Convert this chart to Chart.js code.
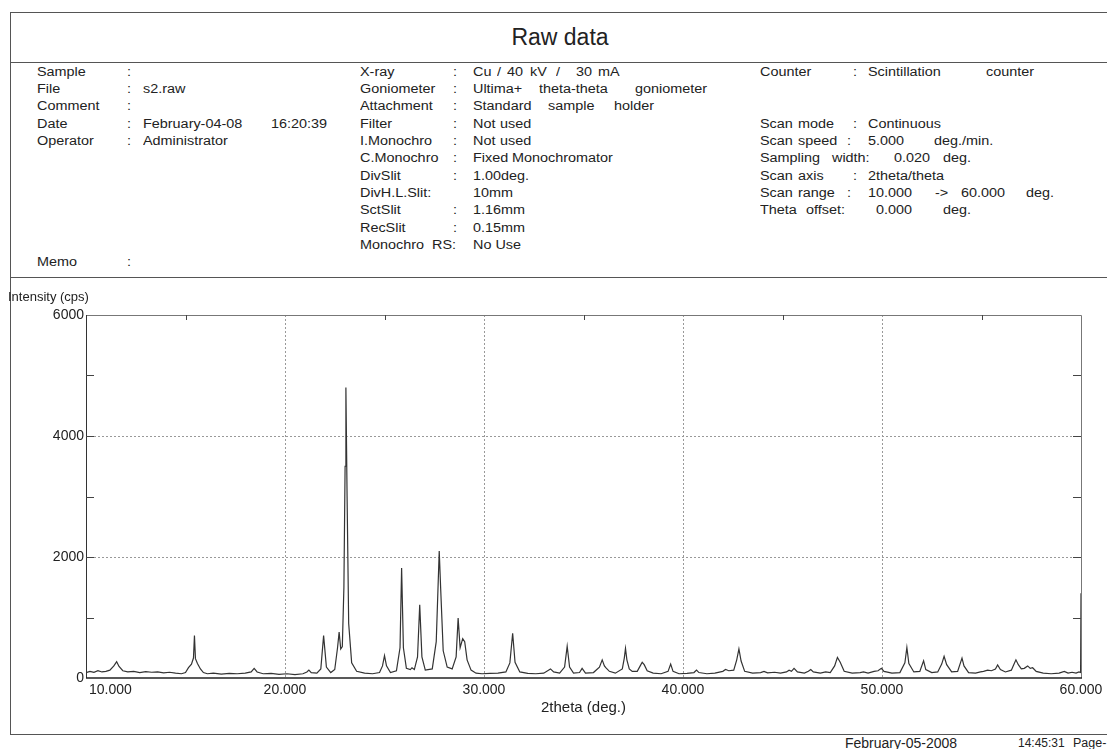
<!DOCTYPE html>
<html>
<head>
<meta charset="utf-8">
<title>Raw data</title>
<script src="https://cdn.jsdelivr.net/npm/chart.js@4.4.1/dist/chart.umd.min.js"></script>
<style>
  html, body { margin: 0; padding: 0; background: #fff; }
  body { width: 1107px; height: 749px; position: relative; overflow: hidden;
         font-family: Arial, "Liberation Sans", sans-serif; color: #222; }
  .box { position: absolute; left: 10px; top: 12px; width: 1110px; height: 723px;
         border: 1px solid #555; box-sizing: border-box; }
  .hl { position: absolute; left: 10px; width: 1097px; height: 0; border-top: 1px solid #555; }
  .t { position: absolute; font-size: 12px; line-height: 14px; white-space: nowrap;
       transform: scaleX(1.2); transform-origin: left center; }
  #title { position: absolute; left: 0; width: 1120px; top: 24px; text-align: center;
           font-size: 23px; line-height: 26px; }
  .foot { position: absolute; top: 735px; line-height: 16px; white-space: nowrap; }
  #chartWrap { position: absolute; left: 0; top: 278px; width: 1107px; height: 457px; }
</style>
</head>
<body>
<div class="box"></div>
<div class="hl" style="top:62px"></div>
<div class="hl" style="top:277px"></div>
<div id="title">Raw data</div>

<!-- column 1 -->
<span class="t" style="left:37px;top:65px">Sample</span>
<span class="t" style="left:127px;top:65px">:</span>
<span class="t" style="left:37px;top:82px">File</span>
<span class="t" style="left:127px;top:82px">:</span>
<span class="t" style="left:143px;top:82px">s2.raw</span>
<span class="t" style="left:37px;top:99px">Comment</span>
<span class="t" style="left:127px;top:99px">:</span>
<span class="t" style="left:37px;top:117px">Date</span>
<span class="t" style="left:127px;top:117px">:</span>
<span class="t" style="left:143px;top:117px">February-04-08</span>
<span class="t" style="left:271px;top:117px">16:20:39</span>
<span class="t" style="left:37px;top:134px">Operator</span>
<span class="t" style="left:127px;top:134px">:</span>
<span class="t" style="left:143px;top:134px">Administrator</span>
<span class="t" style="left:37px;top:255px">Memo</span>
<span class="t" style="left:127px;top:255px">:</span>

<!-- column 2 -->
<span class="t" style="left:360px;top:65px">X-ray</span>
<span class="t" style="left:453px;top:65px">:</span>
<span class="t" style="left:473px;top:65px">Cu</span>
<span class="t" style="left:497px;top:65px">/</span>
<span class="t" style="left:507px;top:65px">40</span>
<span class="t" style="left:530px;top:65px">kV</span>
<span class="t" style="left:556px;top:65px">/</span>
<span class="t" style="left:576px;top:65px">30</span>
<span class="t" style="left:598px;top:65px">mA</span>
<span class="t" style="left:360px;top:82px">Goniometer</span>
<span class="t" style="left:453px;top:82px">:</span>
<span class="t" style="left:473px;top:82px">Ultima+</span>
<span class="t" style="left:539px;top:82px">theta-theta</span>
<span class="t" style="left:635px;top:82px">goniometer</span>
<span class="t" style="left:360px;top:99px">Attachment</span>
<span class="t" style="left:453px;top:99px">:</span>
<span class="t" style="left:473px;top:99px">Standard</span>
<span class="t" style="left:548px;top:99px">sample</span>
<span class="t" style="left:614px;top:99px">holder</span>
<span class="t" style="left:360px;top:117px">Filter</span>
<span class="t" style="left:453px;top:117px">:</span>
<span class="t" style="left:473px;top:117px">Not</span>
<span class="t" style="left:500px;top:117px">used</span>
<span class="t" style="left:360px;top:134px">I.Monochro</span>
<span class="t" style="left:453px;top:134px">:</span>
<span class="t" style="left:473px;top:134px">Not</span>
<span class="t" style="left:500px;top:134px">used</span>
<span class="t" style="left:360px;top:151px">C.Monochro</span>
<span class="t" style="left:453px;top:151px">:</span>
<span class="t" style="left:473px;top:151px">Fixed</span>
<span class="t" style="left:512px;top:151px">Monochromator</span>
<span class="t" style="left:360px;top:169px">DivSlit</span>
<span class="t" style="left:453px;top:169px">:</span>
<span class="t" style="left:473px;top:169px">1.00deg.</span>
<span class="t" style="left:360px;top:186px">DivH.L.Slit:</span>
<span class="t" style="left:473px;top:186px">10mm</span>
<span class="t" style="left:360px;top:203px">SctSlit</span>
<span class="t" style="left:453px;top:203px">:</span>
<span class="t" style="left:473px;top:203px">1.16mm</span>
<span class="t" style="left:360px;top:221px">RecSlit</span>
<span class="t" style="left:453px;top:221px">:</span>
<span class="t" style="left:473px;top:221px">0.15mm</span>
<span class="t" style="left:360px;top:238px">Monochro</span>
<span class="t" style="left:432px;top:238px">RS:</span>
<span class="t" style="left:473px;top:238px">No Use</span>

<!-- column 3 -->
<span class="t" style="left:760px;top:65px">Counter</span>
<span class="t" style="left:853px;top:65px">:</span>
<span class="t" style="left:868px;top:65px">Scintillation</span>
<span class="t" style="left:986px;top:65px">counter</span>
<span class="t" style="left:760px;top:117px">Scan</span>
<span class="t" style="left:798px;top:117px">mode</span>
<span class="t" style="left:853px;top:117px">:</span>
<span class="t" style="left:868px;top:117px">Continuous</span>
<span class="t" style="left:760px;top:134px">Scan</span>
<span class="t" style="left:798px;top:134px">speed</span>
<span class="t" style="left:847px;top:134px">:</span>
<span class="t" style="left:868px;top:134px">5.000</span>
<span class="t" style="left:934px;top:134px">deg./min.</span>
<span class="t" style="left:760px;top:151px">Sampling</span>
<span class="t" style="left:832px;top:151px">width:</span>
<span class="t" style="left:894px;top:151px">0.020</span>
<span class="t" style="left:943px;top:151px">deg.</span>
<span class="t" style="left:760px;top:169px">Scan</span>
<span class="t" style="left:798px;top:169px">axis</span>
<span class="t" style="left:853px;top:169px">:</span>
<span class="t" style="left:868px;top:169px">2theta/theta</span>
<span class="t" style="left:760px;top:186px">Scan</span>
<span class="t" style="left:798px;top:186px">range</span>
<span class="t" style="left:847px;top:186px">:</span>
<span class="t" style="left:868px;top:186px">10.000</span>
<span class="t" style="left:935px;top:186px">-&gt;</span>
<span class="t" style="left:961px;top:186px">60.000</span>
<span class="t" style="left:1026px;top:186px">deg.</span>
<span class="t" style="left:760px;top:203px">Theta</span>
<span class="t" style="left:806px;top:203px">offset:</span>
<span class="t" style="left:876px;top:203px">0.000</span>
<span class="t" style="left:943px;top:203px">deg.</span>

<div id="chartWrap"><canvas id="xrdChart" width="1107" height="457"></canvas></div>

<div class="foot" style="left:845px;font-size:14px">February-05-2008</div>
<div class="foot" style="left:1018px;font-size:12px">14:45:31</div>
<div class="foot" style="left:1073px;font-size:12.5px">Page-</div>

<script>
/***** DATA *****/
var twoTheta = [
    10.00, 10.20, 10.40, 10.60, 10.80, 11.00, 11.20, 11.40, 11.54, 11.66, 11.85, 12.10, 12.40, 12.70,
    13.00, 13.30, 13.60, 13.90, 14.20, 14.50, 14.80, 15.00, 15.15, 15.30, 15.40, 15.45, 15.50, 15.60,
    15.75, 15.90, 16.10, 16.40, 16.80, 17.20, 17.60, 18.00, 18.30, 18.45, 18.60, 18.90, 19.30, 19.70,
    20.10, 20.50, 20.90, 21.10, 21.20, 21.32, 21.60, 21.80, 21.94, 22.08, 22.30, 22.50, 22.64, 22.72,
    22.80, 22.88, 22.96, 23.02, 23.06, 23.12, 23.20, 23.35, 23.60, 24.00, 24.40, 24.75, 24.90, 25.00,
    25.10, 25.30, 25.60, 25.78, 25.86, 25.95, 26.10, 26.30, 26.38, 26.50, 26.66, 26.77, 26.88, 27.05,
    27.40, 27.60, 27.70, 27.75, 27.82, 27.95, 28.15, 28.40, 28.60, 28.70, 28.80, 28.93, 29.03, 29.15,
    29.35, 29.60, 29.90, 30.30, 30.70, 31.10, 31.30, 31.44, 31.56, 31.80, 32.20, 32.60, 33.00, 33.34,
    33.50, 33.80, 34.05, 34.18, 34.30, 34.50, 34.80, 34.93, 35.10, 35.50, 35.80, 35.94, 36.05, 36.12,
    36.30, 36.60, 36.95, 37.05, 37.11, 37.18, 37.30, 37.45, 37.70, 37.85, 37.95, 38.05, 38.20, 38.50,
    38.90, 39.25, 39.38, 39.50, 39.80, 40.20, 40.55, 40.68, 40.80, 41.20, 41.60, 42.00, 42.14, 42.30,
    42.55, 42.70, 42.81, 42.92, 43.10, 43.50, 43.90, 44.07, 44.25, 44.60, 44.90, 45.20, 45.33, 45.45,
    45.58, 45.75, 46.10, 46.30, 46.42, 46.55, 46.90, 47.17, 47.40, 47.62, 47.76, 47.90, 48.10, 48.50,
    48.90, 49.07, 49.30, 49.60, 49.80, 49.97, 50.10, 50.50, 50.90, 51.15, 51.25, 51.35, 51.60, 51.90,
    52.09, 52.20, 52.50, 52.80, 53.00, 53.12, 53.25, 53.50, 53.80, 54.02, 54.12, 54.35, 54.70, 54.95,
    55.10, 55.31, 55.50, 55.70, 55.81, 55.95, 56.20, 56.50, 56.62, 56.73, 56.85, 57.00, 57.15, 57.32,
    57.45, 57.57, 57.75, 58.10, 58.50, 58.90, 59.16, 59.35, 59.55, 59.75, 59.90, 59.98, 60.00
];
var intensity = [
    90, 110, 95, 120, 100, 110, 130, 200, 270, 190, 120, 100, 110, 90,
    105, 95, 100, 85, 95, 80, 70, 90, 170, 230, 330, 700, 320, 240,
    150, 90, 70, 80, 65, 75, 70, 80, 100, 160, 100, 70, 75, 60,
    70, 55, 70, 100, 130, 90, 80, 150, 700, 180, 90, 140, 500, 760,
    480, 520, 1500, 3500, 4800, 3000, 900, 250, 110, 80, 70, 90, 200, 370,
    200, 90, 120, 500, 1820, 500, 160, 140, 170, 140, 350, 1210, 350, 130,
    150, 600, 1600, 2100, 1500, 450, 180, 150, 350, 990, 500, 650, 600, 300,
    130, 80, 70, 75, 80, 100, 250, 740, 260, 100, 75, 70, 80, 150,
    100, 80, 180, 525, 180, 80, 90, 160, 80, 90, 180, 300, 200, 170,
    110, 80, 150, 330, 490, 300, 150, 110, 110, 200, 260, 220, 120, 80,
    70, 110, 230, 110, 70, 75, 90, 130, 90, 70, 80, 110, 140, 120,
    130, 300, 480, 280, 110, 80, 90, 110, 85, 95, 80, 100, 130, 110,
    160, 100, 80, 110, 140, 100, 80, 100, 90, 200, 340, 260, 110, 80,
    90, 100, 80, 110, 120, 160, 110, 80, 90, 250, 505, 240, 100, 110,
    285, 140, 90, 100, 230, 360, 220, 100, 110, 330, 200, 90, 80, 100,
    110, 130, 120, 150, 215, 140, 100, 130, 220, 300, 220, 150, 160, 200,
    160, 170, 110, 80, 70, 80, 110, 80, 95, 80, 100, 90, 1400
];
var xTickValues = [10, 20, 30, 40, 50, 60];
var yMinorTicks = [1000, 2000, 3000, 4000, 5000];
var xMinorTicks = [15, 25, 35, 45, 55];

var points = twoTheta.map(function (t, i) { return { x: t, y: intensity[i] }; });

var frameAndLabels = {
    id: 'frameAndLabels',
    afterDraw: function (chart) {
        var ctx = chart.ctx, a = chart.chartArea;
        var xs = chart.scales.x, ys = chart.scales.y;
        ctx.save();
        // plot frame
        ctx.lineWidth = 1;
        ctx.strokeStyle = '#777';
        ctx.beginPath();
        ctx.moveTo(a.left, a.top + 0.5); ctx.lineTo(a.right + 0.5, a.top + 0.5);
        ctx.lineTo(a.right + 0.5, a.bottom);
        ctx.stroke();
        ctx.strokeStyle = '#333';
        ctx.beginPath();
        ctx.moveTo(a.left + 0.5, a.top); ctx.lineTo(a.left + 0.5, a.bottom);
        ctx.stroke();
        ctx.lineWidth = 1.5;
        ctx.strokeStyle = '#222';
        ctx.beginPath();
        ctx.moveTo(a.left, a.bottom); ctx.lineTo(a.right + 1, a.bottom);
        ctx.stroke();

        // inward ticks
        ctx.lineWidth = 1;
        ctx.strokeStyle = '#444';
        yMinorTicks.forEach(function (v) {
            var py = Math.round(ys.getPixelForValue(v)) + 0.5;
            ctx.beginPath();
            ctx.moveTo(a.left, py); ctx.lineTo(a.left + 8, py);
            ctx.moveTo(a.right, py); ctx.lineTo(a.right - 8, py);
            ctx.stroke();
        });
        xMinorTicks.forEach(function (v) {
            var px = Math.round(xs.getPixelForValue(v)) + 0.5;
            ctx.beginPath();
            ctx.moveTo(px, a.top); ctx.lineTo(px, a.top + 5);
            ctx.stroke();
        });

        // x tick labels
        ctx.fillStyle = '#222';
        ctx.font = '14px Arial, "Liberation Sans", sans-serif';
        ctx.textBaseline = 'middle';
        xTickValues.forEach(function (v, i) {
            var px = xs.getPixelForValue(v);
            if (i === 0) {
                ctx.textAlign = 'left';
                ctx.fillText(v.toFixed(3), px + 3, a.bottom + 12);
            } else {
                ctx.textAlign = 'center';
                ctx.fillText(v.toFixed(3), px, a.bottom + 12);
            }
        });

        // axis titles
        ctx.font = '15px Arial, "Liberation Sans", sans-serif';
        ctx.textAlign = 'center';
        ctx.fillText('2theta (deg.)', (a.left + a.right) / 2, a.bottom + 30);
        ctx.font = '13px Arial, "Liberation Sans", sans-serif';
        ctx.textAlign = 'left';
        ctx.fillText('Intensity (cps)', 8, 19);
        ctx.restore();
    }
};

var ctx = document.getElementById('xrdChart').getContext('2d');
var xrdChart = new Chart(ctx, {
    type: 'line',
    data: {
        datasets: [{
            label: 'Intensity',
            data: points,
            borderColor: '#333',
            borderWidth: 1.2,
            pointRadius: 0,
            tension: 0,
            fill: false
        }]
    },
    options: {
        responsive: false,
        animation: false,
        devicePixelRatio: 1,
        layout: { padding: { top: 37, right: 26, bottom: 0, left: 0 } },
        plugins: { legend: { display: false }, tooltip: { enabled: false } },
        scales: {
            x: {
                type: 'linear',
                min: 10,
                max: 60,
                ticks: { stepSize: 10, display: false },
                grid: {
                    drawTicks: false,
                    color: function (c) {
                        var v = c.tick && c.tick.value;
                        return (v > 10 && v < 60) ? '#999' : 'rgba(0,0,0,0)';
                    }
                },
                border: { display: false, dash: [2, 2] },
                afterFit: function (scale) { scale.height = 57; }
            },
            y: {
                min: 0,
                max: 6000,
                ticks: {
                    stepSize: 2000,
                    padding: 2,
                    color: '#222',
                    font: { family: 'Arial, "Liberation Sans", sans-serif', size: 14 },
                    callback: function (v) { return String(v); }
                },
                grid: {
                    drawTicks: false,
                    color: function (c) {
                        var v = c.tick && c.tick.value;
                        return (v === 2000 || v === 4000) ? '#999' : 'rgba(0,0,0,0)';
                    }
                },
                border: { display: false, dash: [2, 2] },
                afterFit: function (scale) { scale.width = 86; }
            }
        }
    },
    plugins: [frameAndLabels]
});
</script>
</body>
</html>
